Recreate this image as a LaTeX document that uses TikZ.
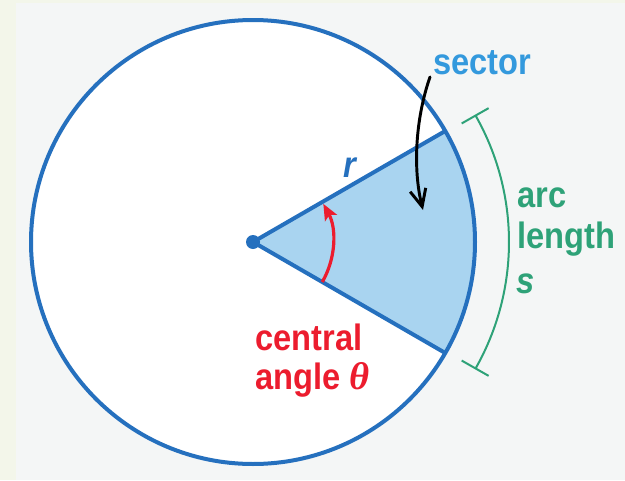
\documentclass[tikz,border=0pt]{standalone}
\usepackage{fontspec}
\setmainfont{Liberation Sans}
\newfontfamily\labfont[FakeStretch=0.89]{Liberation Sans Bold}
\newfontfamily\labitfont[FakeStretch=0.89]{Liberation Sans Bold Italic}
\newfontfamily\thfont{Liberation Serif Bold Italic}
\usetikzlibrary{arrows.meta,calc}
\definecolor{outerbg}{HTML}{F3F6EA}
\definecolor{panelbg}{HTML}{F4F6F6}
\definecolor{circblue}{HTML}{2570BE}
\definecolor{secfill}{HTML}{A9D4F0}
\definecolor{sectext}{HTML}{3399DD}
\definecolor{angred}{HTML}{EC1C2E}
\definecolor{arcgreen}{HTML}{2EA278}
\tikzset{
  lab/.style={inner sep=0pt, anchor=base west, font=\labfont\fontsize{27.5pt}{30pt}\selectfont},
  labit/.style={inner sep=0pt, anchor=base west, font=\labitfont\fontsize{27.5pt}{30pt}\selectfont},
  bluestroke/.style={draw=circblue, line width=3pt},
}
\begin{document}
\begin{tikzpicture}[x=0.75pt,y=0.75pt]
\useasboundingbox (0,0) rectangle (625,480);
\fill[outerbg] (0,0) rectangle (625,480);
\fill[panelbg] (16,0) rectangle (625,477);
\coordinate (c) at (253,238);
% circle and sector
\fill[white] (c) circle[radius=222];
\fill[secfill] (c) -- ($(c)+(-30:222)$) arc[start angle=-30,end angle=30,radius=222] -- cycle;
\draw[bluestroke] (c) circle[radius=222];
\draw[bluestroke, line join=round] ($(c)+(30:222)$) -- (c) -- ($(c)+(-30:222)$);
\fill[circblue] (c) circle[radius=7];
% central angle arrow
\coordinate (angstart) at ($(c)+(-30:80)$);
\draw[angred, line width=2.4pt, -{Stealth[length=12pt,width=10pt,inset=2.5pt]}]
  (angstart) arc[start angle=-30,end angle=28.5,radius=80];
% arc length bracket
\coordinate (brtop) at ($(c)+(29.6:256)$);
\coordinate (brbot) at ($(c)+(-29.6:256)$);
\draw[arcgreen, line width=1.5pt] (brbot) arc[start angle=-29.6,end angle=29.6,radius=256];
\draw[arcgreen, line width=1.5pt] ($(c)+(29.6:240)$) -- ($(c)+(29.6:271)$);
\draw[arcgreen, line width=1.5pt] ($(c)+(-29.6:240)$) -- ($(c)+(-29.6:271)$);
% labels
\node[lab, text=sectext] (sector) at (433,406) {sector};
\node[labit, text=circblue] (r) at (343,303) {r};
\node[lab, text=angred] (central) at (255,130) {central};
\node[lab, text=angred] (angle) at (255,91) {angle {\thfont\fontsize{29pt}{30pt}\selectfont θ}};
\node[lab, text=arcgreen] (arc) at (517,273) {arc};
\node[lab, text=arcgreen] (length) at (517,232) {length};
\node[labit, text=arcgreen] (s) at (516,187) {s};
% sector pointer
\coordinate (secstart) at (430,403);
\coordinate (sectip) at (423,270);
\draw[black, line width=2.2pt, line cap=round, -{Straight Barb[length=13pt,width=12pt]}]
  (secstart) .. controls (415,360) and (413,310) .. (sectip);
\end{tikzpicture}
\end{document}
